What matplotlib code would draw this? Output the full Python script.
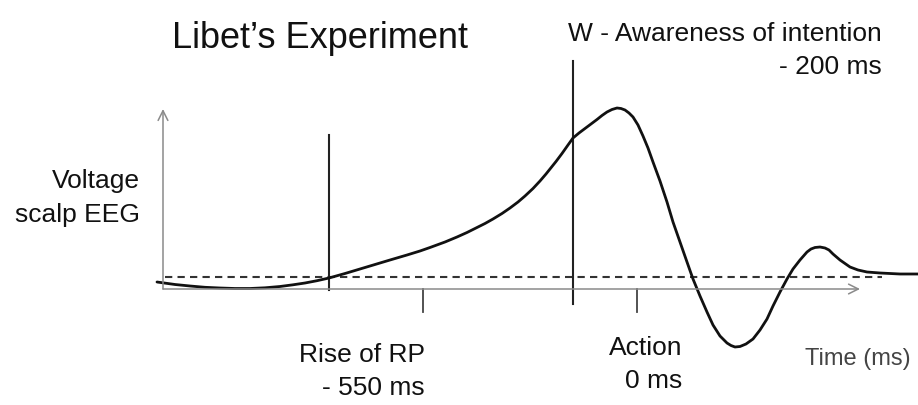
import matplotlib
matplotlib.use('Agg')
import matplotlib.pyplot as plt

plt.rcParams['font.family'] = ['Liberation Sans', 'DejaVu Sans']

# curve (pixel-like units, y grows downwards)
curve_x = [157, 175, 190, 205, 220, 235, 250, 265, 280, 293, 305, 317, 329,
           345, 360, 375, 390, 407, 420, 430, 445, 457, 467, 475, 485, 493,
           502, 510, 518, 525, 533, 540, 546, 550, 556, 562, 568, 573, 579,
           585, 591, 597, 602, 607, 612, 617, 621, 625, 629, 633, 638, 643,
           648, 653, 660, 667, 673, 680, 687, 693, 700, 707, 713, 720, 727,
           731, 735, 740, 746, 753, 760, 767, 773, 780, 787, 793, 800, 807,
           811, 815, 820, 825, 829, 833, 840, 850, 858, 867, 880, 900, 918]
curve_y = [283, 285.5, 287, 288.3, 289, 289.5, 289.5, 288.8, 287.5, 285.8,
           284, 281.7, 279, 274.5, 270, 265.5, 261, 256, 252, 248.5, 243,
           238, 233.5, 229.5, 224.5, 220, 214.5, 209, 203, 197, 189.5, 182,
           175, 170, 162.5, 154.5, 146, 139, 134, 129.5, 125, 120.5, 116.5,
           113, 110.5, 109, 109.5, 111, 114, 118, 126, 137, 149, 163, 182,
           203, 223, 243, 263, 280, 297, 313, 326, 337, 344, 346.5, 348,
           347.5, 345, 340, 331, 320, 307, 293, 280, 270, 261, 253, 250,
           248.5, 248, 249, 251, 255, 261, 268, 271, 273, 274, 275, 275]

baseline_y = 278
baseline_x = [165, 882]

# event markers: vertical lines (x, top, bottom) and ticks on time axis
rp_line = (329, 136, 291)
w_line = (573, 62, 305)
tick_x = [423, 637]

title = "Libet\u2019s Experiment"
w_label = "W - Awareness of intention\n- 200 ms"
y_label = "Voltage\nscalp EEG"
rp_label = "Rise of RP\n- 550 ms"
action_label = "Action\n0 ms"
time_label = "Time (ms)"

fig = plt.figure(figsize=(9.18, 4.06), dpi=100)
ax = fig.add_axes([0, 0, 1, 1])
ax.set_xlim(0, 918)
ax.set_ylim(406, 0)
ax.axis('off')

# axes with open arrow heads
arrow = dict(arrowstyle='->, head_length=0.5, head_width=0.25', color='#8a8a8a',
             lw=1.1, mutation_scale=14, shrinkA=0, shrinkB=0)
ax.annotate('', xy=(860, 290), xytext=(163, 290), arrowprops=arrow)
ax.annotate('', xy=(163, 110), xytext=(163, 290), arrowprops=arrow)

# dashed baseline
ax.plot(baseline_x, [baseline_y, baseline_y], ls=(0, (3.5, 2.5)), color='#333333', lw=1.5)

# vertical markers
for x, top, bot in [rp_line, w_line]:
    ax.plot([x, x], [top, bot], color='#222222', lw=1.5)
for x in tick_x:
    ax.plot([x, x], [290, 313], color='#444444', lw=1.3)

# the readiness potential curve
ax.plot(curve_x, curve_y, color='#111111', lw=2.0, solid_capstyle='round',
        solid_joinstyle='round')

# texts
ax.text(172, 48, title, fontsize=26, color='#111111', ha='left', va='baseline')
ax.text(882, 74, w_label, fontsize=19, color='#111111', ha='right', va='baseline',
        multialignment='right', linespacing=1.45)
ax.text(140, 222, y_label, fontsize=19, color='#111111', ha='right', va='baseline',
        multialignment='right', linespacing=1.5)
ax.text(425, 395, rp_label, fontsize=19, color='#111111', ha='right', va='baseline',
        multialignment='right', linespacing=1.45)
ax.text(682, 388, action_label, fontsize=19, color='#111111', ha='right', va='baseline',
        multialignment='right', linespacing=1.45)
ax.text(805, 365, time_label, fontsize=17, color='#444444', ha='left', va='baseline')

plt.savefig('out.png', dpi=100)
